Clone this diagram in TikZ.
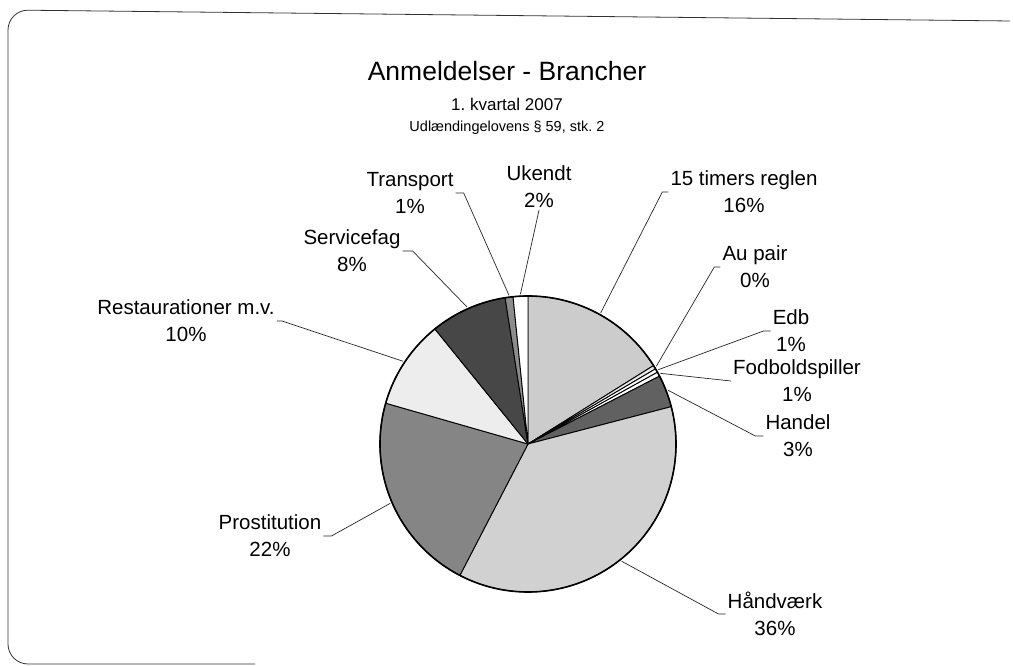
\documentclass[tikz,border=0pt]{standalone}
\usepackage{fontspec}
\setmainfont{Liberation Sans}
\usetikzlibrary{positioning}

\begin{document}
\begin{tikzpicture}[
    x=1pt, y=1pt,
    node distance=33pt,
    on grid,
    slice/.style={draw=black, line width=0.9pt, line join=round},
    leader/.style={draw=black!85, line width=0.7pt},
    lbl/.style={align=center, inner sep=2pt, font=\fontsize{20.5}{27}\selectfont}
]
   \useasboundingbox (0,0) rectangle (1013,666);

   % Frame
   \draw[black!80, line width=0.8pt, rounded corners=20pt] (255,2) -- (8,2) -- (8,656) -- (1010,645);

   % Title
   \node (title) at (507,595) {\fontsize{26.5}{30}\selectfont Anmeldelser - Brancher};
   \node (sub1) [below=of title] {\fontsize{17}{20}\selectfont 1.\ kvartal 2007};
   \node (sub2) [below=24pt of sub1] {\fontsize{14.5}{17}\selectfont Udlændingelovens § 59, stk.\ 2};

   % Slices
   \coordinate (c) at (528,222);
   \filldraw[slice, fill=black!20] (c) -- ++(90:148) arc[start angle=90, end angle=32, radius=148] -- cycle;
   \filldraw[slice, fill=black!8] (c) -- ++(32:148) arc[start angle=32, end angle=30.5, radius=148] -- cycle;
   \filldraw[slice, fill=white] (c) -- ++(30.5:148) arc[start angle=30.5, end angle=29, radius=148] -- cycle;
   \filldraw[slice, fill=white] (c) -- ++(29:148) arc[start angle=29, end angle=27.3, radius=148] -- cycle;
   \filldraw[slice, fill=black!62] (c) -- ++(27.3:148) arc[start angle=27.3, end angle=14.6, radius=148] -- cycle;
   \filldraw[slice, fill=black!18] (c) -- ++(14.6:148) arc[start angle=14.6, end angle=-117.4, radius=148] -- cycle;
   \filldraw[slice, fill=black!48] (c) -- ++(-117.4:148) arc[start angle=-117.4, end angle=-196, radius=148] -- cycle;
   \filldraw[slice, fill=black!7] (c) -- ++(-196:148) arc[start angle=-196, end angle=-231, radius=148] -- cycle;
   \filldraw[slice, fill=black!72] (c) -- ++(-231:148) arc[start angle=-231, end angle=-261.1, radius=148] -- cycle;
   \filldraw[slice, fill=black!45] (c) -- ++(-261.1:148) arc[start angle=-261.1, end angle=-264.2, radius=148] -- cycle;
   \filldraw[slice, fill=white] (c) -- ++(-264.2:148) arc[start angle=-264.2, end angle=-270, radius=148] -- cycle;
   \draw[line width=1.6pt] (c) circle[radius=148];

   % Points on the rim
   \coordinate (e-tim) at ([shift={(61:150)}]c);
   \coordinate (e-aup) at ([shift={(31.2:150)}]c);
   \coordinate (e-edb) at ([shift={(29.7:150)}]c);
   \coordinate (e-fod) at ([shift={(28.1:150)}]c);
   \coordinate (e-han) at ([shift={(21:150)}]c);
   \coordinate (e-haa) at ([shift={(-51.4:150)}]c);
   \coordinate (e-pro) at ([shift={(-156.7:150)}]c);
   \coordinate (e-res) at ([shift={(146.5:150)}]c);
   \coordinate (e-ser) at ([shift={(114:150)}]c);
   \coordinate (e-tra) at ([shift={(97.3:150)}]c);
   \coordinate (e-uke) at ([shift={(92.9:150)}]c);

   % Labels
   \node[lbl] (tim) at (744,474) {15 timers reglen\\16\%};
   \node[lbl] (aup) at (755,399) {Au pair\\0\%};
   \node[lbl] (edb) at (791,335) {Edb\\1\%};
   \node[lbl] (fod) at (797,285) {Fodboldspiller\\1\%};
   \node[lbl] (han) at (798,230) {Handel\\3\%};
   \node[lbl] (haa) at (775,52) {Håndværk\\36\%};
   \node[lbl] (pro) at (270,130) {Prostitution\\22\%};
   \node[lbl] (res) at (186,345) {Restaurationer m.v.\\10\%};
   \node[lbl] (ser) at (352,415) {Servicefag\\8\%};
   \node[lbl] (tra) at (410,473) {Transport\\1\%};
   \node[lbl] (uke) at (539,479) {Ukendt\\2\%};

   % Leaders
   \draw[leader] (tim.west) -- ++(-6,0) -- (e-tim);
   \draw[leader] (aup.west) -- ++(-6,0) -- (e-aup);
   \draw[leader] (edb.west) -- ++(-7,0) -- (e-edb);
   \draw[leader] (fod.west) -- (e-fod);
   \draw[leader] (han.west) -- ++(-8,0) -- (e-han);
   \draw[leader] (haa.west) -- ++(-7,0) -- (e-haa);
   \draw[leader] (pro.east) -- ++(8,0) -- (e-pro);
   \draw[leader] (res.east) -- ++(5,0) -- (e-res);
   \draw[leader] (ser.east) -- ++(10,0) -- (e-ser);
   \draw[leader] (tra.east) -- ++(8,0) -- (e-tra);
   \draw[leader] (uke.south) -- (e-uke);
\end{tikzpicture}
\end{document}
